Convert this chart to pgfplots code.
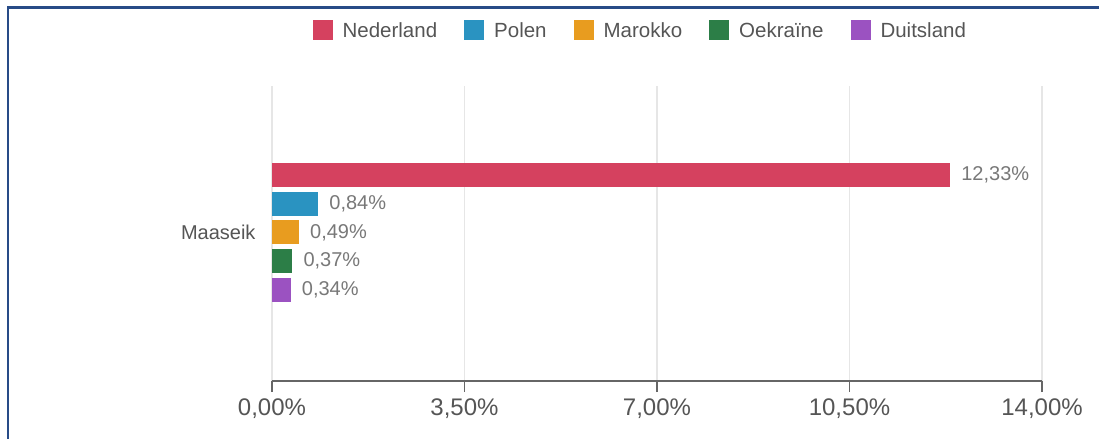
\documentclass[border=0pt]{standalone}
\usepackage{pgfplots}
\pgfplotsset{compat=1.18}
\usepackage{fontspec}
\setmainfont{Liberation Sans}
\definecolor{cNed}{RGB}{213,65,95}
\definecolor{cPol}{RGB}{42,147,193}
\definecolor{cMar}{RGB}{232,156,31}
\definecolor{cOek}{RGB}{44,126,71}
\definecolor{cDui}{RGB}{155,82,193}
\definecolor{txt}{RGB}{85,85,85}
\definecolor{lbl}{RGB}{120,120,120}
\definecolor{gridc}{RGB}{230,230,230}
\definecolor{axc}{RGB}{102,102,102}
\definecolor{frame}{RGB}{40,75,135}
\begin{document}
\begin{tikzpicture}
\path[use as bounding box] (0,0) rectangle (1099bp,439bp);
\draw[frame, line width=2.5bp] (8bp,0) -- (8bp,431.5bp) -- (1099bp,431.5bp);
\begin{axis}[
  at={(272bp,58bp)}, anchor=south west,
  scale only axis, width=770bp, height=295bp,
  xmin=0, xmax=14, ymin=-3.1, ymax=7.18, y dir=reverse,
  axis x line*=bottom, axis y line*=left,
  y axis line style={draw=none},
  x axis line style={axc, line width=1.8bp},
  xtick={0,3.5,7,10.5,14},
  xticklabels={{0,00\%},{3,50\%},{7,00\%},{10,50\%},{14,00\%}},
  xtick style={axc, line width=1.8bp},
  major tick length=11bp, tick align=outside,
  xmajorgrids, grid style={gridc, line width=1.5bp},
  ytick={2}, yticklabels={Maaseik},
  ytick style={draw=none},
  x tick label style={font=\fontsize{24bp}{28bp}\selectfont, text=txt, yshift=-3bp},
  y tick label style={font=\fontsize{20bp}{24bp}\selectfont, text=txt, xshift=-2bp},
  /pgf/number format/assume math mode=true,
  point meta=explicit symbolic,
  nodes near coords,
  every node near coord/.append style={font=\fontsize{20bp}{24bp}\selectfont, text=lbl, anchor=west, inner sep=0pt, xshift=11bp, yshift=0pt},
  legend columns=5,
  legend style={draw=none, fill=none, at={(0.477,1.19)}, anchor=center,
    font=\fontsize{20.5bp}{24bp}\selectfont, text=txt,
    /tikz/every even column/.append style={column sep=27bp},
    nodes={inner sep=0pt, text depth=0pt}},
  legend image code/.code={\fill[#1,draw=none] (0bp,-10bp) rectangle (20bp,10bp); \path[draw=none,fill=none] (0bp,0bp) rectangle (30bp,1bp);},
  clip=false,
]
\addplot[xbar, bar shift=0pt, bar width=0.84, fill=cNed, draw=none] coordinates {(12.33,0) [12,33\%]};
\addlegendentry{Nederland}
\addplot[xbar, bar shift=0pt, bar width=0.84, fill=cPol, draw=none] coordinates {(0.84,1) [0,84\%]};
\addlegendentry{Polen}
\addplot[xbar, bar shift=0pt, bar width=0.84, fill=cMar, draw=none] coordinates {(0.49,2) [0,49\%]};
\addlegendentry{Marokko}
\addplot[xbar, bar shift=0pt, bar width=0.84, fill=cOek, draw=none] coordinates {(0.37,3) [0,37\%]};
\addlegendentry{Oekraïne}
\addplot[xbar, bar shift=0pt, bar width=0.84, fill=cDui, draw=none] coordinates {(0.34,4) [0,34\%]};
\addlegendentry{Duitsland}
\end{axis}
\end{tikzpicture}
\end{document}
